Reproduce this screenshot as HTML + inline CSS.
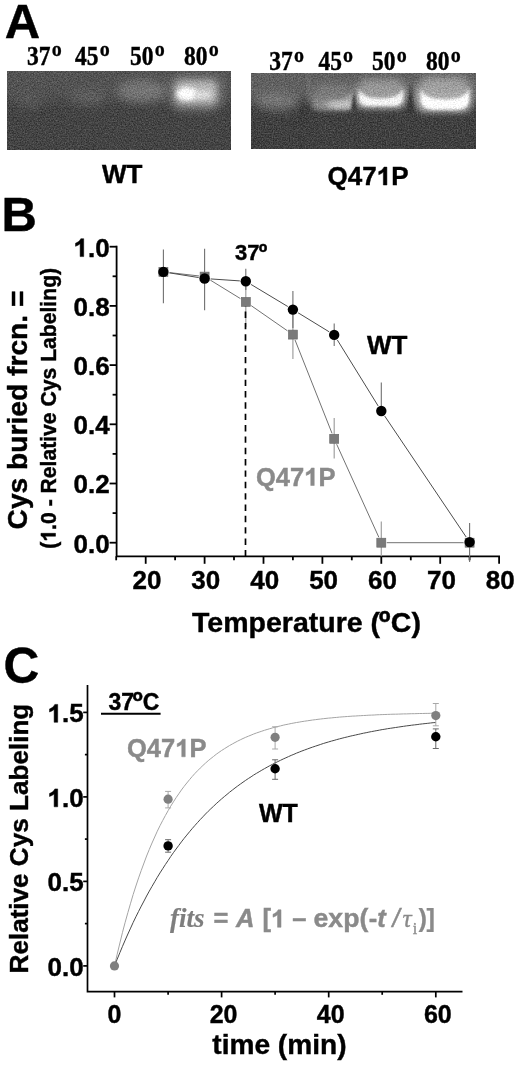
<!DOCTYPE html>
<html><head><meta charset="utf-8"><title>Figure</title>
<style>
html,body{margin:0;padding:0;background:#fff;}
body{width:520px;height:1065px;overflow:hidden;font-family:"Liberation Sans",sans-serif;}
svg{display:block;}
text{white-space:pre;font-family:"Liberation Sans",sans-serif;font-weight:bold;fill:#000;stroke:#000;stroke-width:0.42px;}
.serif{font-family:"Liberation Serif",serif;}
.g{fill:#8a8a8a;stroke:#8a8a8a;}
</style></head><body>
<svg width="520" height="1065" viewBox="0 0 520 1065">
<defs>
<filter id="gn" x="0" y="0" width="100%" height="100%" color-interpolation-filters="sRGB">
<feTurbulence type="fractalNoise" baseFrequency="0.75" numOctaves="2" seed="7" result="n"/>
<feColorMatrix in="n" type="matrix" values="1 0 0 0 0  1 0 0 0 0  1 0 0 0 0  0 0 0 0 1" result="g"/>
<feComposite in="SourceGraphic" in2="g" operator="arithmetic" k1="0" k2="1" k3="0.34" k4="-0.17"/>
<feGaussianBlur stdDeviation="0.6"/>
</filter>
<filter id="gn2" x="0" y="0" width="100%" height="100%" color-interpolation-filters="sRGB">
<feTurbulence type="fractalNoise" baseFrequency="0.75" numOctaves="2" seed="11" result="n"/>
<feColorMatrix in="n" type="matrix" values="1 0 0 0 0  1 0 0 0 0  1 0 0 0 0  0 0 0 0 1" result="g"/>
<feComposite in="SourceGraphic" in2="g" operator="arithmetic" k1="0" k2="1" k3="0.34" k4="-0.17"/>
<feGaussianBlur stdDeviation="0.6"/>
</filter>
<filter id="b1" x="-30%" y="-30%" width="160%" height="160%"><feGaussianBlur stdDeviation="1.2"/></filter>
<linearGradient id="g45" x1="0" x2="1" y1="0" y2="0"><stop offset="0" stop-color="#7c7c7c"/><stop offset="1" stop-color="#b4b4b4"/></linearGradient>
<filter id="b15" x="-30%" y="-30%" width="160%" height="160%"><feGaussianBlur stdDeviation="1.6"/></filter>
<filter id="b4" x="-30%" y="-40%" width="160%" height="180%"><feGaussianBlur stdDeviation="4"/></filter>
<filter id="b3" x="-30%" y="-30%" width="160%" height="160%"><feGaussianBlur stdDeviation="3"/></filter>
<filter id="b2" x="-30%" y="-30%" width="160%" height="160%"><feGaussianBlur stdDeviation="2"/></filter>
<filter id="b5" x="-30%" y="-50%" width="160%" height="200%"><feGaussianBlur stdDeviation="5"/></filter>
<filter id="soft"><feGaussianBlur stdDeviation="0.45"/></filter>
<clipPath id="cl"><rect x="7" y="71" width="224" height="79"/></clipPath>
<clipPath id="cr"><rect x="251" y="73" width="225" height="76"/></clipPath>
</defs>

<g filter="url(#soft)">
<text x="4.8" y="38.1" font-size="49">A</text>
<text class="serif" x="27" y="64.6" font-size="28" textLength="23.5" lengthAdjust="spacingAndGlyphs" style="stroke-width:0.45px">37</text><text class="serif" x="51.7" y="56.3" font-size="20" style="stroke-width:0.3px">o</text>
<text class="serif" x="75" y="64.6" font-size="28" textLength="23.5" lengthAdjust="spacingAndGlyphs" style="stroke-width:0.45px">45</text><text class="serif" x="99.7" y="56.3" font-size="20" style="stroke-width:0.3px">o</text>
<text class="serif" x="130" y="64.6" font-size="28" textLength="23.5" lengthAdjust="spacingAndGlyphs" style="stroke-width:0.45px">50</text><text class="serif" x="154.7" y="56.3" font-size="20" style="stroke-width:0.3px">o</text>
<text class="serif" x="184" y="64.6" font-size="28" textLength="23.5" lengthAdjust="spacingAndGlyphs" style="stroke-width:0.45px">80</text><text class="serif" x="208.7" y="56.3" font-size="20" style="stroke-width:0.3px">o</text>
<text class="serif" x="269.3" y="69.8" font-size="28" textLength="23.5" lengthAdjust="spacingAndGlyphs" style="stroke-width:0.45px">37</text><text class="serif" x="294.0" y="61.6" font-size="20" style="stroke-width:0.3px">o</text>
<text class="serif" x="318.4" y="69.8" font-size="28" textLength="23.5" lengthAdjust="spacingAndGlyphs" style="stroke-width:0.45px">45</text><text class="serif" x="343.09999999999997" y="61.6" font-size="20" style="stroke-width:0.3px">o</text>
<text class="serif" x="372" y="69.8" font-size="28" textLength="23.5" lengthAdjust="spacingAndGlyphs" style="stroke-width:0.45px">50</text><text class="serif" x="396.7" y="61.6" font-size="20" style="stroke-width:0.3px">o</text>
<text class="serif" x="426" y="69.8" font-size="28" textLength="23.5" lengthAdjust="spacingAndGlyphs" style="stroke-width:0.45px">80</text><text class="serif" x="450.7" y="61.6" font-size="20" style="stroke-width:0.3px">o</text>
<text x="122.2" y="183" font-size="26" text-anchor="middle">WT</text>
<text x="327.53" y="185" font-size="26">Q47</text><path d="M806 0H525V1014Q371 876 162 810V1054Q272 1088 401 1185Q530 1281 578 1409H806Z" transform="translate(376.67,185) scale(0.01270,-0.01270)" fill="#000" stroke="#000" stroke-width="0.5" vector-effect="non-scaling-stroke"/><text x="391.13" y="185" font-size="26">P</text>
</g>
<g clip-path="url(#cl)"><g filter="url(#gn)">
<rect x="0" y="60" width="240" height="100" fill="#444444"/>
<rect x="-10" y="60" width="260" height="40" fill="#525252" filter="url(#b5)"/>
<ellipse cx="142" cy="91" rx="25" ry="11" fill="#747474" filter="url(#b5)"/>
<ellipse cx="88" cy="97" rx="18" ry="7" fill="#5e5e5e" filter="url(#b5)"/>
<ellipse cx="30" cy="100" rx="14" ry="8" fill="#565656" filter="url(#b5)"/>
<rect x="172" y="77" width="48" height="32" rx="8" fill="#888888" filter="url(#b5)"/>
<rect x="176" y="82" width="40" height="21" rx="6" fill="#bababa" filter="url(#b3)"/>
<ellipse cx="187" cy="94" rx="10.5" ry="6.5" fill="#ffffff" filter="url(#b2)"/>
<ellipse cx="203" cy="95" rx="9" ry="4" fill="#dcdcdc" filter="url(#b2)"/>
<rect x="222" y="74" width="2.5" height="30" fill="#666666" filter="url(#b2)"/>
</g></g>
<g clip-path="url(#cr)"><g filter="url(#gn2)">
<rect x="240" y="60" width="250" height="100" fill="#404040"/>
<rect x="240" y="56" width="250" height="46" fill="#606060" filter="url(#b5)"/>
<ellipse cx="277" cy="101" rx="21" ry="9" fill="#767676" filter="url(#b5)"/>
<rect x="307.5" y="72" width="2.5" height="28" fill="#747474" filter="url(#b2)"/>
<rect x="314" y="84" width="38" height="24" rx="8" fill="#7c7c7c" filter="url(#b4)"/>
<rect x="358" y="79" width="46" height="27" rx="8" fill="#989898" filter="url(#b4)"/>
<rect x="419" y="77" width="50" height="32" rx="8" fill="#a0a0a0" filter="url(#b4)"/>
<path d="M312 91 Q315 100 333 100 Q350 100 353 90 L353 104 Q353 110 347 110 L318 110 Q312 110 312 104 Z" fill="url(#g45)" filter="url(#b2)"/>
<ellipse cx="339" cy="104.5" rx="12" ry="3.2" fill="#c4c4c4" filter="url(#b2)"/>
<path d="M356 85 Q360 95 381 95 Q401 95 405 84 L405 101 Q405 108 398 108 L363 108 Q356 108 356 101 Z" fill="#a4a4a4" filter="url(#b3)"/>
<path d="M359 89 Q362 98.5 381 98.5 Q400 98.5 403 88 L403 99 Q402 106 392 106 L368 106 Q360 106 359 99 Z" fill="#f6f6f6" filter="url(#b15)"/>
<path d="M417 84 Q421 95 444 95 Q467 95 471 83 L471 104 Q471 111.5 463 111.5 L425 111.5 Q417 111.5 417 104 Z" fill="#b0b0b0" filter="url(#b3)"/>
<path d="M421 89 Q424 99.5 445 99.5 Q466 99.5 469 88 L469 101 Q468 109.5 456 109.5 L434 109.5 Q422 109.5 421 101 Z" fill="#ffffff" filter="url(#b15)"/>
<path d="M410.5 84 L414 112 L407 112 Z" fill="#3a3a3a" filter="url(#b1)"/>
<path d="M354 90 L356.5 110 L351.5 110 Z" fill="#3a3a3a" filter="url(#b1)"/>
<path d="M303.5 92 L307 122 L300 122 Z" fill="#3a3a3a" filter="url(#b2)"/>
</g></g>
<g filter="url(#soft)">
<text x="1.4" y="230.6" font-size="49">B</text>
<path d="M116.6 245.79999999999998 V556.3 H500.0" fill="none" stroke="#000" stroke-width="1.8"/>
<line x1="109.6" y1="542.7" x2="116.6" y2="542.7" stroke="#000" stroke-width="1.8"/>
<text x="73.46" y="552.6" font-size="26">0.0</text>
<line x1="112.6" y1="513.1" x2="116.6" y2="513.1" stroke="#000" stroke-width="1.8"/>
<line x1="109.6" y1="483.5" x2="116.6" y2="483.5" stroke="#000" stroke-width="1.8"/>
<text x="73.46" y="493.4" font-size="26">0.2</text>
<line x1="112.6" y1="453.9" x2="116.6" y2="453.9" stroke="#000" stroke-width="1.8"/>
<line x1="109.6" y1="424.3" x2="116.6" y2="424.3" stroke="#000" stroke-width="1.8"/>
<text x="73.46" y="434.2" font-size="26">0.4</text>
<line x1="112.6" y1="394.7" x2="116.6" y2="394.7" stroke="#000" stroke-width="1.8"/>
<line x1="109.6" y1="365.1" x2="116.6" y2="365.1" stroke="#000" stroke-width="1.8"/>
<text x="73.46" y="375.0" font-size="26">0.6</text>
<line x1="112.6" y1="335.5" x2="116.6" y2="335.5" stroke="#000" stroke-width="1.8"/>
<line x1="109.6" y1="305.9" x2="116.6" y2="305.9" stroke="#000" stroke-width="1.8"/>
<text x="73.46" y="315.8" font-size="26">0.8</text>
<line x1="112.6" y1="276.3" x2="116.6" y2="276.3" stroke="#000" stroke-width="1.8"/>
<line x1="109.6" y1="246.7" x2="116.6" y2="246.7" stroke="#000" stroke-width="1.8"/>
<path d="M806 0H525V1014Q371 876 162 810V1054Q272 1088 401 1185Q530 1281 578 1409H806Z" transform="translate(73.46,256.6) scale(0.01270,-0.01270)" fill="#000" stroke="#000" stroke-width="0.5" vector-effect="non-scaling-stroke"/><text x="87.92" y="256.6" font-size="26">.0</text>
<line x1="116.2" y1="556.3" x2="116.2" y2="560.3" stroke="#000" stroke-width="1.8"/>
<line x1="145.7" y1="556.3" x2="145.7" y2="563.8" stroke="#000" stroke-width="1.8"/>
<text x="146.9" y="589.3" font-size="26" text-anchor="middle">20</text>
<line x1="175.1" y1="556.3" x2="175.1" y2="560.3" stroke="#000" stroke-width="1.8"/>
<line x1="204.6" y1="556.3" x2="204.6" y2="563.8" stroke="#000" stroke-width="1.8"/>
<text x="205.8" y="589.3" font-size="26" text-anchor="middle">30</text>
<line x1="234.0" y1="556.3" x2="234.0" y2="560.3" stroke="#000" stroke-width="1.8"/>
<line x1="263.5" y1="556.3" x2="263.5" y2="563.8" stroke="#000" stroke-width="1.8"/>
<text x="264.7" y="589.3" font-size="26" text-anchor="middle">40</text>
<line x1="292.9" y1="556.3" x2="292.9" y2="560.3" stroke="#000" stroke-width="1.8"/>
<line x1="322.4" y1="556.3" x2="322.4" y2="563.8" stroke="#000" stroke-width="1.8"/>
<text x="323.6" y="589.3" font-size="26" text-anchor="middle">50</text>
<line x1="351.8" y1="556.3" x2="351.8" y2="560.3" stroke="#000" stroke-width="1.8"/>
<line x1="381.3" y1="556.3" x2="381.3" y2="563.8" stroke="#000" stroke-width="1.8"/>
<text x="382.5" y="589.3" font-size="26" text-anchor="middle">60</text>
<line x1="410.8" y1="556.3" x2="410.8" y2="560.3" stroke="#000" stroke-width="1.8"/>
<line x1="440.2" y1="556.3" x2="440.2" y2="563.8" stroke="#000" stroke-width="1.8"/>
<text x="441.4" y="589.3" font-size="26" text-anchor="middle">70</text>
<line x1="469.6" y1="556.3" x2="469.6" y2="560.3" stroke="#000" stroke-width="1.8"/>
<line x1="499.1" y1="556.3" x2="499.1" y2="563.8" stroke="#000" stroke-width="1.8"/>
<text x="500.3" y="589.3" font-size="26" text-anchor="middle">80</text>
<text x="192.09" y="631.5" font-size="28.5">Temperature (</text>
<text x="378.85" y="633.00" font-size="32.20">º</text>
<text x="390.84" y="631.5" font-size="28.5">C)</text>
<text transform="translate(27.3,410) rotate(-90)" font-size="28.2" text-anchor="middle">Cys buried frcn. =</text>
<g transform="translate(55.5,408.3) rotate(-90)"><text x="-140.39" y="0" font-size="21.15">(</text><path d="M806 0H525V1014Q371 876 162 810V1054Q272 1088 401 1185Q530 1281 578 1409H806Z" transform="translate(-133.35,0) scale(0.01033,-0.01033)" fill="#000" stroke="#000" stroke-width="0.5" vector-effect="non-scaling-stroke"/><text x="-121.59" y="0" font-size="21.15">.0 - Relative Cys Labeling)</text></g>
<text x="234.90" y="259.6" font-size="22">37</text>
<text x="258.63" y="260.50" font-size="23.32">º</text>
<text x="367" y="353.6" font-size="26">WT</text>
<text class="g" x="256.00" y="485.5" font-size="25.5">Q47</text><path d="M806 0H525V1014Q371 876 162 810V1054Q272 1088 401 1185Q530 1281 578 1409H806Z" transform="translate(304.20,485.5) scale(0.01245,-0.01245)" fill="#8a8a8a" stroke="#8a8a8a" stroke-width="0.5" vector-effect="non-scaling-stroke"/><text class="g" x="318.38" y="485.5" font-size="25.5">P</text>
<polyline fill="none" stroke="#727272" stroke-width="1.0" points="163.4,271.9 204.6,276.6 245.8,301.9 292.9,334.6 334.2,438.8 381.3,542.7 469.6,542.7"/>
<polyline fill="none" stroke="#4c4c4c" stroke-width="1.0" points="163.4,271.9 204.6,278.5 245.8,281.3 292.9,309.6 334.2,334.9 381.3,411.0 469.6,542.1"/>
<rect x="158.9" y="267.4" width="9" height="9" fill="#fff" stroke="#fff" stroke-width="1.8"/>
<rect x="200.1" y="272.1" width="9" height="9" fill="#fff" stroke="#fff" stroke-width="1.8"/>
<rect x="241.3" y="297.4" width="9" height="9" fill="#fff" stroke="#fff" stroke-width="1.8"/>
<rect x="288.4" y="330.1" width="9" height="9" fill="#fff" stroke="#fff" stroke-width="1.8"/>
<rect x="329.7" y="434.3" width="9" height="9" fill="#fff" stroke="#fff" stroke-width="1.8"/>
<rect x="376.8" y="538.2" width="9" height="9" fill="#fff" stroke="#fff" stroke-width="1.8"/>
<rect x="465.1" y="538.2" width="9" height="9" fill="#fff" stroke="#fff" stroke-width="1.8"/>
<circle cx="163.4" cy="271.9" r="5.2" fill="#fff" stroke="#fff" stroke-width="1.8"/>
<circle cx="204.6" cy="278.5" r="5.2" fill="#fff" stroke="#fff" stroke-width="1.8"/>
<circle cx="245.8" cy="281.3" r="5.2" fill="#fff" stroke="#fff" stroke-width="1.8"/>
<circle cx="292.9" cy="309.6" r="5.2" fill="#fff" stroke="#fff" stroke-width="1.8"/>
<circle cx="334.2" cy="334.9" r="5.2" fill="#fff" stroke="#fff" stroke-width="1.8"/>
<circle cx="381.3" cy="411.0" r="5.2" fill="#fff" stroke="#fff" stroke-width="1.8"/>
<circle cx="469.6" cy="542.1" r="5.2" fill="#fff" stroke="#fff" stroke-width="1.8"/>
<line x1="245.8" y1="281" x2="245.8" y2="327" stroke="#a0a0a0" stroke-width="1.2"/>
<line x1="292.9" y1="310" x2="292.9" y2="359" stroke="#a0a0a0" stroke-width="1.2"/>
<line x1="334.2" y1="418" x2="334.2" y2="458.5" stroke="#a0a0a0" stroke-width="1.2"/>
<line x1="381.3" y1="521.6" x2="381.3" y2="556.3" stroke="#a0a0a0" stroke-width="1.2"/>
<line x1="163.4" y1="249.4" x2="163.4" y2="303.2" stroke="#707070" stroke-width="1.1"/>
<line x1="204.6" y1="248.7" x2="204.6" y2="310.2" stroke="#707070" stroke-width="1.1"/>
<line x1="245.8" y1="268.8" x2="245.8" y2="290" stroke="#707070" stroke-width="1.1"/>
<line x1="292.9" y1="291" x2="292.9" y2="328" stroke="#707070" stroke-width="1.1"/>
<line x1="334.2" y1="323.5" x2="334.2" y2="346" stroke="#707070" stroke-width="1.1"/>
<line x1="381.3" y1="382.5" x2="381.3" y2="411" stroke="#707070" stroke-width="1.1"/>
<line x1="469.6" y1="523" x2="469.6" y2="562" stroke="#707070" stroke-width="1.1"/>
<line x1="245.5" y1="556.3" x2="245.5" y2="305.9" stroke="#000" stroke-width="1.7" stroke-dasharray="6.4 4.95"/>
<rect x="158.9" y="267.4" width="9" height="9" fill="#7a7a7a" stroke="#666" stroke-width="0.6"/>
<rect x="200.1" y="272.1" width="9" height="9" fill="#7a7a7a" stroke="#666" stroke-width="0.6"/>
<rect x="241.3" y="297.4" width="9" height="9" fill="#7a7a7a" stroke="#666" stroke-width="0.6"/>
<rect x="288.4" y="330.1" width="9" height="9" fill="#7a7a7a" stroke="#666" stroke-width="0.6"/>
<rect x="329.7" y="434.3" width="9" height="9" fill="#7a7a7a" stroke="#666" stroke-width="0.6"/>
<rect x="376.8" y="538.2" width="9" height="9" fill="#7a7a7a" stroke="#666" stroke-width="0.6"/>
<rect x="465.1" y="538.2" width="9" height="9" fill="#7a7a7a" stroke="#666" stroke-width="0.6"/>
<circle cx="163.4" cy="271.9" r="5.2" fill="#000"/>
<circle cx="204.6" cy="278.5" r="5.2" fill="#000"/>
<circle cx="245.8" cy="281.3" r="5.2" fill="#000"/>
<circle cx="292.9" cy="309.6" r="5.2" fill="#000"/>
<circle cx="334.2" cy="334.9" r="5.2" fill="#000"/>
<circle cx="381.3" cy="411.0" r="5.2" fill="#000"/>
<circle cx="469.6" cy="542.1" r="5.2" fill="#000"/>
</g>
<g filter="url(#soft)">
<text x="3.6" y="682.6" font-size="49.5">C</text>
<path d="M87.5 685 V991.6 H462.5" fill="none" stroke="#000" stroke-width="1.7"/>
<line x1="83.2" y1="965.9" x2="87.5" y2="965.9" stroke="#000" stroke-width="1.7"/>
<text x="47.46" y="975.8" font-size="26">0.0</text>
<line x1="84.9" y1="923.6" x2="87.5" y2="923.6" stroke="#000" stroke-width="1.7"/>
<line x1="83.2" y1="881.4" x2="87.5" y2="881.4" stroke="#000" stroke-width="1.7"/>
<text x="47.46" y="891.3" font-size="26">0.5</text>
<line x1="84.9" y1="839.1" x2="87.5" y2="839.1" stroke="#000" stroke-width="1.7"/>
<line x1="83.2" y1="796.9" x2="87.5" y2="796.9" stroke="#000" stroke-width="1.7"/>
<path d="M806 0H525V1014Q371 876 162 810V1054Q272 1088 401 1185Q530 1281 578 1409H806Z" transform="translate(47.46,806.8) scale(0.01270,-0.01270)" fill="#000" stroke="#000" stroke-width="0.5" vector-effect="non-scaling-stroke"/><text x="61.92" y="806.8" font-size="26">.0</text>
<line x1="84.9" y1="754.6" x2="87.5" y2="754.6" stroke="#000" stroke-width="1.7"/>
<line x1="83.2" y1="712.4" x2="87.5" y2="712.4" stroke="#000" stroke-width="1.7"/>
<path d="M806 0H525V1014Q371 876 162 810V1054Q272 1088 401 1185Q530 1281 578 1409H806Z" transform="translate(47.46,722.3) scale(0.01270,-0.01270)" fill="#000" stroke="#000" stroke-width="0.5" vector-effect="non-scaling-stroke"/><text x="61.92" y="722.3" font-size="26">.5</text>
<line x1="114.5" y1="991.6" x2="114.5" y2="997.4" stroke="#000" stroke-width="1.7"/>
<text x="114.5" y="1022.7" font-size="25" text-anchor="middle">0</text>
<line x1="168.1" y1="991.6" x2="168.1" y2="994.8000000000001" stroke="#000" stroke-width="1.7"/>
<line x1="221.6" y1="991.6" x2="221.6" y2="997.4" stroke="#000" stroke-width="1.7"/>
<text x="223.6" y="1022.7" font-size="25" text-anchor="middle">20</text>
<line x1="275.1" y1="991.6" x2="275.1" y2="994.8000000000001" stroke="#000" stroke-width="1.7"/>
<line x1="328.7" y1="991.6" x2="328.7" y2="997.4" stroke="#000" stroke-width="1.7"/>
<text x="330.7" y="1022.7" font-size="25" text-anchor="middle">40</text>
<line x1="382.2" y1="991.6" x2="382.2" y2="994.8000000000001" stroke="#000" stroke-width="1.7"/>
<line x1="435.8" y1="991.6" x2="435.8" y2="997.4" stroke="#000" stroke-width="1.7"/>
<text x="437.8" y="1022.7" font-size="25" text-anchor="middle">60</text>
<text x="279.4" y="1053.9" font-size="28.1" text-anchor="middle">time (min)</text>
<text transform="translate(27.6,838.6) rotate(-90)" font-size="26.1" text-anchor="middle">Relative Cys Labeling</text>
<text x="108.40" y="710.3" font-size="23">37</text>
<text x="132.56" y="711.10" font-size="28.06">º</text>
<text x="142.78" y="710.3" font-size="23">C</text>
<line x1="101" y1="713.7" x2="160.6" y2="713.7" stroke="#000" stroke-width="2.1"/>
<text class="g" x="127.00" y="756.8" font-size="25.5">Q47</text><path d="M806 0H525V1014Q371 876 162 810V1054Q272 1088 401 1185Q530 1281 578 1409H806Z" transform="translate(175.20,756.8) scale(0.01245,-0.01245)" fill="#8a8a8a" stroke="#8a8a8a" stroke-width="0.5" vector-effect="non-scaling-stroke"/><text class="g" x="189.38" y="756.8" font-size="25.5">P</text>
<text x="259" y="822" font-size="25">WT</text>
<g class="f">
<text class="g serif" x="170" y="927.3" font-size="27" font-style="italic" style="stroke-width:0.15px;fill:#7e7e7e;stroke:#7e7e7e">fits</text>
<text class="g" x="213.5" y="927.3" font-size="25.5">=</text>
<text class="g" x="236" y="927.3" font-size="25.5" font-style="italic">A</text>
<text class="g" x="262.50" y="927.3" font-size="25.5">[</text><path d="M806 0H525V1014Q371 876 162 810V1054Q272 1088 401 1185Q530 1281 578 1409H806Z" transform="translate(270.99,927.3) scale(0.01245,-0.01245)" fill="#8a8a8a" stroke="#8a8a8a" stroke-width="0.5" vector-effect="non-scaling-stroke"/><text class="g" x="285.17" y="927.3" font-size="25.5"> –</text>
<text class="g" x="313.5" y="927.3" font-size="25.5" textLength="54.8" lengthAdjust="spacingAndGlyphs">exp(</text>
<text class="g" x="368.8" y="927.3" font-size="25.5">-<tspan font-style="italic">t</tspan></text>
<text class="g" x="392.6" y="927.3" font-size="25.5" font-style="italic" style="font-weight:normal;stroke-width:0.5px">/</text>
<text class="g serif" x="402.5" y="927.3" font-size="25.5" font-style="italic" style="font-weight:normal;stroke-width:0.3px">τ</text>
<text class="g serif" x="412.8" y="933.7" font-size="16" style="font-weight:normal;stroke-width:0.3px">i</text>
<text class="g" x="418.6" y="927.3" font-size="25.5" style="stroke-width:0.2px">)</text>
<text class="g" x="426.6" y="927.3" font-size="25.5" style="stroke-width:0.2px">]</text>
</g>
<polyline fill="none" stroke="#a4a4a4" stroke-width="1.0" points="114.5,965.9 117.2,954.2 119.9,943.0 122.5,932.3 125.2,922.2 127.9,912.5 130.6,903.2 133.2,894.4 135.9,886.0 138.6,877.9 141.3,870.3 144.0,863.0 146.6,856.0 149.3,849.4 152.0,843.0 154.7,837.0 157.3,831.2 160.0,825.7 162.7,820.5 165.4,815.5 168.1,810.7 170.7,806.2 173.4,801.9 176.1,797.7 178.8,793.8 181.4,790.0 184.1,786.4 186.8,783.0 189.5,779.7 192.1,776.6 194.8,773.6 197.5,770.8 200.2,768.1 202.9,765.5 205.5,763.1 208.2,760.7 210.9,758.5 213.6,756.4 216.2,754.3 218.9,752.4 221.6,750.5 224.3,748.8 227.0,747.1 229.6,745.5 232.3,744.0 235.0,742.5 237.7,741.1 240.3,739.8 243.0,738.5 245.7,737.3 248.4,736.2 251.1,735.1 253.7,734.0 256.4,733.0 259.1,732.1 261.8,731.2 264.4,730.3 267.1,729.5 269.8,728.7 272.5,727.9 275.1,727.2 277.8,726.5 280.5,725.9 283.2,725.2 285.9,724.6 288.5,724.1 291.2,723.5 293.9,723.0 296.6,722.5 299.2,722.1 301.9,721.6 304.6,721.2 307.3,720.8 310.0,720.4 312.6,720.0 315.3,719.7 318.0,719.3 320.7,719.0 323.3,718.7 326.0,718.4 328.7,718.1 331.4,717.9 334.1,717.6 336.7,717.4 339.4,717.1 342.1,716.9 344.8,716.7 347.4,716.5 350.1,716.3 352.8,716.1 355.5,716.0 358.2,715.8 360.8,715.7 363.5,715.5 366.2,715.4 368.9,715.2 371.5,715.1 374.2,715.0 376.9,714.8 379.6,714.7 382.2,714.6 384.9,714.5 387.6,714.4 390.3,714.3 393.0,714.2 395.6,714.2 398.3,714.1 401.0,714.0 403.7,713.9 406.3,713.9 409.0,713.8 411.7,713.7 414.4,713.7 417.1,713.6 419.7,713.5 422.4,713.5 425.1,713.4 427.8,713.4 430.4,713.3 433.1,713.3 435.8,713.3"/>
<polyline fill="none" stroke="#484848" stroke-width="1.0" points="114.5,965.9 117.2,959.2 119.9,952.6 122.5,946.3 125.2,940.1 127.9,934.0 130.6,928.1 133.2,922.4 135.9,916.8 138.6,911.4 141.3,906.1 144.0,901.0 146.6,896.0 149.3,891.1 152.0,886.4 154.7,881.8 157.3,877.3 160.0,872.9 162.7,868.7 165.4,864.5 168.1,860.5 170.7,856.5 173.4,852.7 176.1,849.0 178.8,845.4 181.4,841.9 184.1,838.4 186.8,835.1 189.5,831.8 192.1,828.7 194.8,825.6 197.5,822.6 200.2,819.6 202.9,816.8 205.5,814.0 208.2,811.3 210.9,808.7 213.6,806.2 216.2,803.7 218.9,801.3 221.6,798.9 224.3,796.6 227.0,794.4 229.6,792.2 232.3,790.1 235.0,788.0 237.7,786.0 240.3,784.1 243.0,782.2 245.7,780.3 248.4,778.5 251.1,776.8 253.7,775.0 256.4,773.4 259.1,771.8 261.8,770.2 264.4,768.7 267.1,767.2 269.8,765.7 272.5,764.3 275.1,762.9 277.8,761.6 280.5,760.3 283.2,759.0 285.9,757.8 288.5,756.6 291.2,755.4 293.9,754.3 296.6,753.1 299.2,752.1 301.9,751.0 304.6,750.0 307.3,749.0 310.0,748.0 312.6,747.1 315.3,746.2 318.0,745.3 320.7,744.4 323.3,743.5 326.0,742.7 328.7,741.9 331.4,741.1 334.1,740.4 336.7,739.6 339.4,738.9 342.1,738.2 344.8,737.5 347.4,736.9 350.1,736.2 352.8,735.6 355.5,735.0 358.2,734.4 360.8,733.8 363.5,733.2 366.2,732.7 368.9,732.1 371.5,731.6 374.2,731.1 376.9,730.6 379.6,730.1 382.2,729.6 384.9,729.2 387.6,728.7 390.3,728.3 393.0,727.9 395.6,727.5 398.3,727.1 401.0,726.7 403.7,726.3 406.3,725.9 409.0,725.6 411.7,725.2 414.4,724.9 417.1,724.6 419.7,724.2 422.4,723.9 425.1,723.6 427.8,723.3 430.4,723.0 433.1,722.7 435.8,722.5"/>
<path d="M168.1 791.4 V807.9 M165.1 791.4 h6 M165.1 807.9 h6" fill="none" stroke="#a8a8a8" stroke-width="1.0"/>
<path d="M275.1 726.8 V749.0 M272.1 726.8 h6 M272.1 749.0 h6" fill="none" stroke="#a8a8a8" stroke-width="1.0"/>
<path d="M435.8 703.5 V725.8 M432.8 703.5 h6 M432.8 725.8 h6" fill="none" stroke="#a8a8a8" stroke-width="1.0"/>
<path d="M168.1 839.7 V852.2 M165.1 839.7 h6 M165.1 852.2 h6" fill="none" stroke="#6a6a6a" stroke-width="1.0"/>
<path d="M275.1 759.8 V779.3 M272.1 759.8 h6 M272.1 779.3 h6" fill="none" stroke="#6a6a6a" stroke-width="1.0"/>
<path d="M435.8 728.9 V748.5 M432.8 728.9 h6 M432.8 748.5 h6" fill="none" stroke="#6a6a6a" stroke-width="1.0"/>
<circle cx="168.1" cy="799.2" r="4.6" fill="#808080"/>
<circle cx="275.1" cy="737.3" r="4.6" fill="#808080"/>
<circle cx="435.8" cy="715.6" r="4.6" fill="#808080"/>
<circle cx="114.5" cy="965.9" r="4.6" fill="#808080"/>
<circle cx="168.1" cy="845.9" r="4.7" fill="#000"/>
<circle cx="275.1" cy="768.8" r="4.7" fill="#000"/>
<circle cx="435.8" cy="736.8" r="4.7" fill="#000"/>
</g>
</svg></body></html>
